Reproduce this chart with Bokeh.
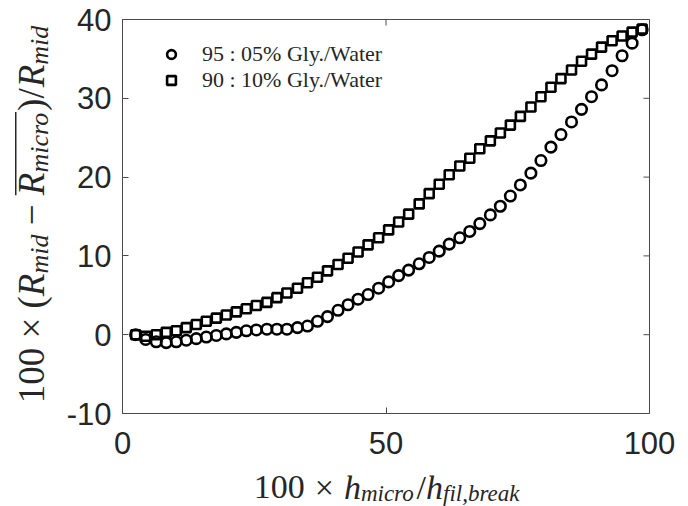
import math
from bokeh.plotting import figure
from bokeh.layouts import row, column
from bokeh.models import (Label, FixedTicker, Legend, LegendItem,
                          BoxAnnotation, Range1d, LinearAxis)
from bokeh.embed import file_html
from bokeh.resources import INLINE

# ---------------- data ----------------
h_ratio = [2.5, 4.4, 6.4, 8.3, 10.2, 12.1, 14.0, 15.9, 17.8, 19.7,
           21.6, 23.5, 25.4, 27.4, 29.3, 31.2, 33.2, 35.1, 37.0, 38.9,
           40.9, 42.8, 44.7, 46.6, 48.6, 50.5, 52.4, 54.3, 56.3, 58.2,
           60.1, 62.0, 64.0, 65.9, 67.8, 69.8, 71.7, 73.6, 75.5, 77.5,
           79.4, 81.3, 83.2, 85.2, 87.1, 89.0, 90.9, 92.9, 94.8, 96.7, 98.6]

r_95_05 = [0.0, -0.6, -0.9, -1.0, -0.9, -0.7, -0.5, -0.3, -0.1, 0.1,
           0.3, 0.5, 0.6, 0.7, 0.7, 0.7, 0.9, 1.1, 1.7, 2.3,
           3.1, 3.8, 4.5, 5.1, 5.9, 6.7, 7.5, 8.2, 9.0, 9.8,
           10.6, 11.5, 12.3, 13.1, 14.1, 15.2, 16.3, 17.6, 19.0, 20.5,
           22.1, 23.8, 25.4, 27.0, 28.6, 30.2, 31.7, 33.5, 35.4, 37.0, 38.7]

r_90_10 = [0.0, -0.2, 0.0, 0.3, 0.5, 0.9, 1.3, 1.7, 2.1, 2.5,
           2.9, 3.3, 3.7, 4.1, 4.7, 5.3, 5.9, 6.6, 7.3, 8.1,
           8.9, 9.7, 10.5, 11.4, 12.3, 13.3, 14.3, 15.3, 16.6, 17.9,
           19.1, 20.3, 21.4, 22.4, 23.6, 24.6, 25.6, 26.6, 27.7, 28.9,
           30.2, 31.4, 32.5, 33.6, 34.7, 35.6, 36.5, 37.3, 37.9, 38.4, 38.8]

series_names = ["95 : 05% Gly./Water", "90 : 10% Gly./Water"]
x_ticks = [0, 50, 100]
y_ticks = [-10, 0, 10, 20, 30, 40]
x_lo, x_hi = 0, 100
y_lo, y_hi = -10, 40

# ---------------- layout (page px, canvas starts at 0,0) ----------------
PW, PH = 688, 506
YLW = 56                 # width of the y-label strip
XLH = 39                 # height of the x-label strip
FL, FT, FW, FH = 122, 19, 527, 394   # plot frame in page px
INK = "#262626"
BOX = "#4a4a4a"
TICK = 6

MW, MH = PW - YLW, PH - XLH
BL, BR, BB = FL - YLW, MW - (FL - YLW) - FW, MH - FT - FH
p = figure(width=MW, height=MH,
           min_border_left=BL, min_border_top=FT,
           min_border_right=BR, min_border_bottom=BB,
           x_range=Range1d(x_lo, x_hi), y_range=Range1d(y_lo, y_hi),
           output_backend="svg", toolbar_location=None,
           x_axis_location=None, y_axis_location=None)
p.background_fill_color = "white"
p.border_fill_color = "white"
p.grid.visible = False
p.outline_line_color = BOX
p.outline_line_width = 1


def style_axis(ax, ticks):
    ax.ticker = FixedTicker(ticks=ticks)
    ax.axis_line_color = BOX
    ax.major_tick_line_color = BOX
    ax.major_tick_in = TICK
    ax.major_tick_out = 0
    ax.minor_tick_line_color = None
    ax.axis_label_standoff = 0
    ax.major_label_text_font = "Liberation Sans"
    ax.major_label_text_font_size = "31px"
    ax.major_label_text_color = INK
    ax.major_label_overrides = {t: str(t) for t in ticks}


xb = LinearAxis()
style_axis(xb, x_ticks)
xb.major_label_standoff = 18
p.add_layout(xb, "below")
yl = LinearAxis()
style_axis(yl, y_ticks)
yl.major_label_standoff = 11
p.add_layout(yl, "left")

# mirrored inward ticks on the top and right edges
tx = TICK / FW * (x_hi - x_lo)
ty = TICK / FH * (y_hi - y_lo)
p.segment(x0=x_ticks, x1=x_ticks, y0=[y_hi] * len(x_ticks),
          y1=[y_hi - ty] * len(x_ticks), line_color=BOX, line_width=1)
p.segment(x0=[x_hi] * len(y_ticks), x1=[x_hi - tx] * len(y_ticks),
          y0=y_ticks, y1=y_ticks, line_color=BOX, line_width=1)

r1 = p.scatter(h_ratio, r_95_05, marker="circle", size=10.5, line_width=2.6,
               line_color="black", fill_color=None)
r2 = p.scatter(h_ratio, r_90_10, marker="square", size=9, line_width=2.6,
               line_color="black", fill_color=None)

leg = Legend(items=[LegendItem(label=series_names[0], renderers=[r1]),
                    LegendItem(label=series_names[1], renderers=[r2])],
             location="top_left", margin=22, padding=0, spacing=-4,
             glyph_width=54, glyph_height=22, label_height=18,
             label_standoff=4, border_line_color=None,
             background_fill_alpha=0,
             label_text_font="Liberation Serif", label_text_font_size="22px",
             label_text_color=INK)
p.add_layout(leg)


# ---------------- strips carrying the composed math axis labels ----------------
def strip(w, h, xr, yr, **borders):
    f = figure(width=w, height=h, x_range=Range1d(*xr), y_range=Range1d(*yr),
               output_backend="svg", toolbar_location=None,
               x_axis_location=None, y_axis_location=None, **borders)
    f.grid.visible = False
    f.outline_line_color = None
    f.background_fill_color = "white"
    f.border_fill_color = "white"
    return f


# y strip: frame = whole strip, coordinates = page px (y downwards)
ys = strip(YLW, PH, (0, YLW), (PH, 0), min_border=0)
# x strip: same horizontal borders as the main figure, frame x = page px
xs = strip(MW, XLH, (FL, FL + FW), (PH, MH), min_border_left=BL,
           min_border_right=BR, min_border_top=0, min_border_bottom=0)

REG = {"0": .5, "1": .5, "×": .564, "(": .333, ")": .333, "/": .278, "−": .564}
ITA = {"h": .5, "m": .722, "i": .278, "c": .444, "r": .389, "o": .5, "f": .278,
       "l": .278, ",": .25, "b": .5, "e": .444, "a": .5, "k": .444, "R": .611,
       "d": .5}


def width(text, size, italic):
    tab = ITA if italic else REG
    return sum(tab.get(ch, .5) for ch in text) * size


BASE_FIX = 0.33          # anchor-to-baseline correction, fraction of font size


def total(pieces):
    return sum(g + width(t, s, it) for t, s, it, g, _ in pieces)


def lab(fig, text, x, y, size, italic, angle=0.0):
    fig.add_layout(Label(x=x, y=y, text=text, angle=angle,
                         text_font="Liberation Serif",
                         text_font_style="italic" if italic else "normal",
                         text_font_size=f"{size}px", text_color=INK,
                         text_align="left", text_baseline="alphabetic"))


# x label: centred under the frame, baseline at page y 498
XM, XS, XG, XDROP = 34, 23, 10, 2.5
xpieces = [("100", XM, False, 0, False), ("×", XM, False, XG, False),
           ("h", XM, True, XG, False), ("micro", XS, True, 0, True),
           ("/", XM, False, 2, False), ("h", XM, True, 0, False),
           ("fil,break", XS, True, 0, True)]
cx, base = FL + FW / 2 + 1, 498
pos = cx - total(xpieces) / 2
for t, s, it, g, sub in xpieces:
    pos += g
    lab(xs, t, pos, base + (XDROP if sub else 0) - BASE_FIX * s, s, it)
    pos += width(t, s, it)

# y label: rotated, centred on the frame, baseline at page x 43
YM, YS, YG, YDROP = 37, 26, 0.25 * 37, 5
ypieces = [("100", YM, False, 0, False), ("×", YM, False, YG, False),
           ("(", YM, False, YG, False), ("R", YM, True, 0, False),
           ("mid", YS, True, 0, True), ("−", YM, False, YG, False),
           ("R", YM, True, YG, False), ("micro", YS, True, 0, True),
           (")", YM, False, 1, False), ("/", YM, False, 0, False),
           ("R", YM, True, 1, False), ("mid", YS, True, 0, True)]
cy, basex = FT + FH / 2 - 2, 43
pos = cy + total(ypieces) / 2
over = []
for i, (t, s, it, g, sub) in enumerate(ypieces):
    pos -= g
    if i == 6:
        over.append(pos)
    lab(ys, t, basex + (YDROP if sub else 0) - BASE_FIX * s, pos, s, it,
        math.pi / 2)
    pos -= width(t, s, it)
    if i == 7:
        over.append(pos)

ys.add_layout(BoxAnnotation(left=14.5, right=16, bottom=over[0], top=over[1],
                            fill_color=INK, fill_alpha=1, line_color=None))

layout = row(ys, column(p, xs, spacing=0), spacing=0)
open("out.html", "w").write(file_html(layout, INLINE))
